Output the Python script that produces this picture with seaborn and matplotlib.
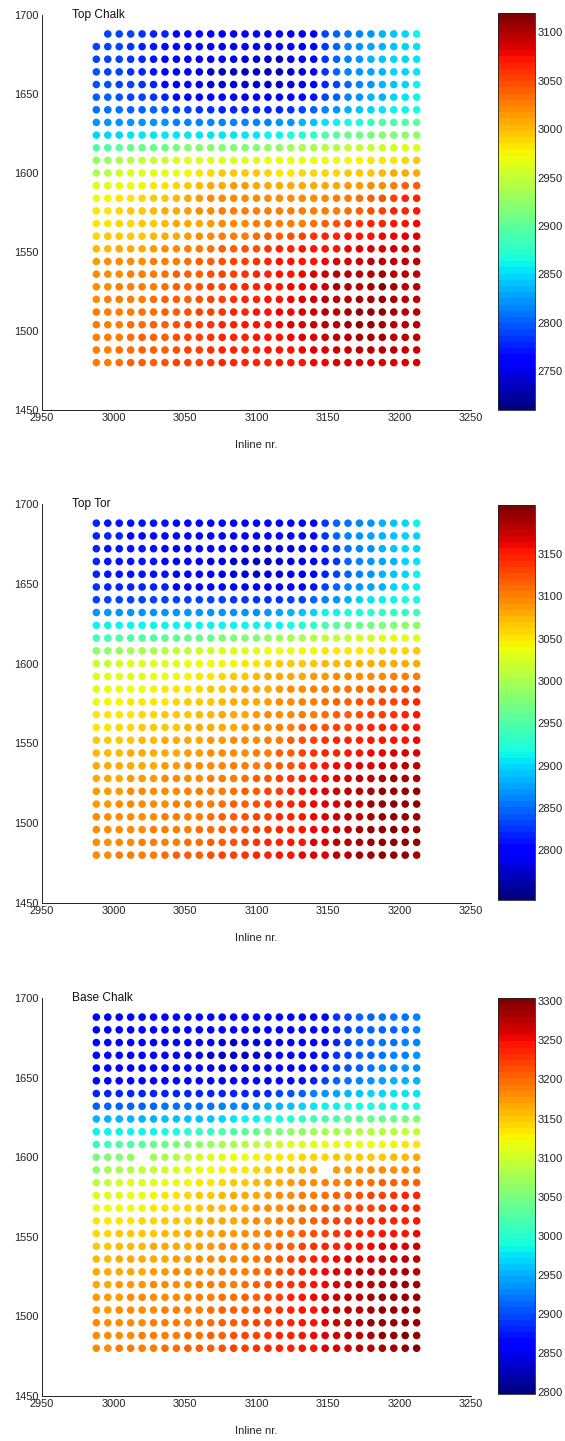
import numpy as np
import pandas as pd
import matplotlib
matplotlib.use("Agg")
import matplotlib.pyplot as plt
import seaborn as sns
from matplotlib.colors import Normalize
from matplotlib.cm import ScalarMappable

nan = float("nan")

# Survey grid: every 8th inline / crossline
inline_nr = [2988, 2996, 3004, 3012, 3020, 3028, 3036, 3044, 3052, 3060,
             3068, 3076, 3084, 3092, 3100, 3108, 3116, 3124, 3132, 3140,
             3148, 3156, 3164, 3172, 3180, 3188, 3196, 3204, 3212]
xline_nr = [1688, 1680, 1672, 1664, 1656, 1648, 1640, 1632, 1624, 1616,
            1608, 1600, 1592, 1584, 1576, 1568, 1560, 1552, 1544, 1536,
            1528, 1520, 1512, 1504, 1496, 1488, 1480]

horizon_names = ["Top Chalk", "Top Tor", "Base Chalk"]
depth_limits = [(2710, 3120), (2741, 3208), (2798, 3304)]
colorbar_ticks = [
    [2750, 2800, 2850, 2900, 2950, 3000, 3050, 3100],
    [2800, 2850, 2900, 2950, 3000, 3050, 3100, 3150],
    [2800, 2850, 2900, 2950, 3000, 3050, 3100, 3150, 3200, 3250, 3300],
]

# Horizon depth at each grid node, as percent of the horizon's depth range
# (rows follow xline_nr, columns follow inline_nr; nan = no pick)
top_chalk_pct = [
    [nan, 20, 20, 19, 18, 17, 16, 14, 12, 11, 11, 11, 11, 11, 11, 10, 10, 10, 10, 12, 19, 22, 24, 26, 28, 30, 32, 34, 36],
    [20, 20, 19, 18, 17, 15, 14, 12, 11, 11, 10, 10, 10, 10, 10, 10, 10, 10, 11, 12, 18, 22, 25, 27, 29, 30, 32, 33, 35],
    [20, 20, 19, 18, 17, 15, 13, 12, 11, 11, 10, 10, 9, 8, 7, 7, 6, 8, 10, 12, 18, 22, 26, 28, 30, 32, 33, 34, 35],
    [21, 20, 20, 18, 17, 15, 13, 12, 10, 9, 7, 6, 6, 5, 5, 5, 5, 7, 9, 12, 18, 22, 25, 27, 29, 31, 33, 34, 35],
    [21, 21, 20, 19, 18, 16, 14, 12, 11, 10, 9, 8, 8, 7, 7, 7, 7, 8, 10, 12, 17, 20, 23, 26, 28, 30, 32, 34, 36],
    [22, 22, 21, 20, 19, 18, 16, 14, 13, 12, 11, 11, 10, 10, 10, 10, 11, 12, 13, 15, 20, 23, 26, 28, 30, 31, 33, 35, 37],
    [24, 24, 24, 23, 23, 22, 21, 20, 19, 18, 18, 17, 17, 17, 17, 17, 17, 18, 20, 22, 25, 27, 30, 32, 34, 35, 36, 37, 38],
    [27, 27, 27, 27, 27, 27, 27, 26, 26, 26, 26, 26, 26, 26, 26, 26, 28, 28, 30, 32, 35, 36, 38, 39, 42, 44, 45, 45, 46],
    [34, 34, 34, 35, 35, 35, 35, 35, 35, 35, 35, 35, 35, 35, 35, 36, 37, 38, 40, 42, 44, 46, 47, 48, 49, 50, 51, 52, 53],
    [44, 45, 46, 47, 47, 48, 48, 49, 50, 50, 51, 51, 51, 51, 51, 52, 53, 54, 55, 56, 57, 57, 58, 58, 59, 60, 60, 61, 62],
    [52, 54, 56, 57, 58, 59, 60, 61, 62, 62, 62, 62, 62, 62, 62, 63, 63, 64, 64, 64, 64, 64, 65, 65, 66, 66, 67, 68, 69],
    [56, 57, 60, 62, 62, 62, 63, 64, 65, 67, 68, 69, 70, 70, 69, 68, 67, 67, 68, 68, 68, 68, 69, 70, 70, 71, 72, 73, 73],
    [62, 62, 63, 64, 65, 66, 67, 68, 70, 71, 72, 73, 74, 74, 73, 72, 72, 72, 73, 73, 73, 73, 74, 74, 75, 76, 78, 80, 81],
    [64, 65, 66, 67, 68, 69, 70, 71, 73, 74, 75, 76, 76, 76, 76, 75, 75, 75, 76, 76, 76, 77, 78, 79, 80, 82, 84, 86, 87],
    [66, 67, 68, 69, 70, 71, 72, 73, 74, 75, 76, 77, 77, 77, 77, 77, 77, 77, 77, 77, 78, 78, 79, 80, 82, 84, 86, 87, 88],
    [67, 67, 68, 68, 69, 70, 71, 72, 73, 73, 74, 75, 76, 76, 77, 77, 77, 78, 78, 79, 80, 82, 84, 85, 86, 87, 88, 89, 90],
    [68, 69, 69, 70, 70, 71, 72, 73, 74, 75, 76, 77, 78, 78, 79, 80, 80, 82, 83, 85, 86, 87, 88, 88, 89, 90, 90, 91, 92],
    [71, 71, 72, 73, 73, 74, 75, 76, 77, 78, 79, 80, 81, 82, 82, 85, 86, 87, 88, 88, 88, 89, 90, 91, 92, 92, 93, 92, 93],
    [74, 75, 75, 76, 76, 77, 78, 78, 79, 80, 81, 82, 83, 84, 85, 87, 88, 88, 88, 89, 90, 91, 92, 93, 94, 95, 94, 94, 94],
    [75, 76, 76, 77, 77, 78, 79, 80, 80, 81, 82, 83, 84, 85, 86, 87, 88, 89, 90, 91, 93, 95, 94, 94, 95, 96, 95, 95, 95],
    [75, 76, 77, 77, 78, 78, 79, 80, 81, 82, 83, 84, 85, 86, 87, 88, 89, 90, 90, 92, 93, 96, 95, 95, 96, 99, 96, 95, 95],
    [76, 77, 77, 78, 78, 79, 80, 80, 81, 82, 83, 84, 85, 86, 87, 88, 89, 90, 91, 93, 94, 95, 95, 96, 96, 97, 96, 95, 95],
    [77, 77, 78, 78, 79, 79, 80, 81, 82, 83, 84, 85, 86, 87, 88, 89, 90, 90, 91, 93, 94, 95, 96, 97, 97, 97, 96, 95, 95],
    [77, 78, 78, 79, 79, 80, 81, 82, 83, 84, 85, 86, 87, 88, 88, 89, 90, 91, 92, 93, 94, 95, 96, 97, 97, 96, 95, 95, 95],
    [77, 78, 78, 79, 80, 80, 81, 82, 83, 84, 85, 86, 87, 87, 88, 88, 89, 90, 91, 92, 93, 94, 95, 96, 96, 96, 95, 95, 94],
    [77, 78, 79, 79, 80, 81, 81, 82, 83, 84, 85, 86, 86, 87, 87, 88, 88, 89, 90, 91, 92, 93, 93, 94, 94, 94, 94, 93, 93],
    [77, 78, 79, 80, 81, 81, 82, 83, 83, 84, 85, 86, 86, 87, 87, 87, 88, 88, 89, 90, 90, 91, 91, 92, 92, 92, 92, 91, 91],
]

top_tor_pct = [
    [17, 15, 15, 15, 15, 15, 15, 13, 13, 13, 13, 13, 13, 13, 13, 13, 13, 13, 13, 14, 18, 22, 24, 26, 28, 30, 32, 34, 37],
    [16, 16, 16, 14, 14, 14, 14, 14, 14, 12, 12, 12, 12, 12, 12, 12, 12, 12, 13, 13, 18, 22, 25, 27, 29, 30, 32, 33, 34],
    [17, 15, 15, 15, 15, 15, 12, 12, 12, 12, 12, 10, 10, 10, 8, 7, 8, 8, 10, 12, 17, 20, 24, 26, 28, 30, 32, 33, 34],
    [17, 15, 15, 15, 15, 15, 12, 12, 12, 10, 9, 8, 6, 7, 5, 6, 7, 8, 10, 12, 15, 18, 22, 25, 27, 29, 31, 33, 35],
    [17, 15, 15, 15, 15, 15, 15, 12, 12, 12, 11, 10, 9, 8, 7, 8, 9, 10, 11, 13, 16, 20, 23, 26, 28, 30, 32, 34, 36],
    [18, 16, 16, 16, 16, 16, 16, 14, 14, 14, 14, 14, 12, 12, 12, 12, 12, 12, 13, 15, 19, 22, 25, 27, 29, 31, 33, 35, 36],
    [20, 20, 20, 20, 20, 20, 19, 19, 19, 19, 19, 19, 18, 18, 18, 18, 18, 19, 20, 22, 25, 28, 30, 33, 35, 36, 37, 38, 38],
    [27, 27, 27, 27, 27, 27, 27, 27, 27, 27, 27, 28, 28, 28, 28, 28, 29, 30, 32, 34, 36, 37, 38, 39, 40, 41, 42, 42, 43],
    [36, 36, 36, 36, 36, 36, 36, 36, 36, 36, 36, 37, 37, 37, 37, 37, 37, 38, 40, 42, 44, 46, 47, 48, 49, 50, 51, 52, 52],
    [43, 43, 44, 44, 45, 45, 46, 46, 47, 47, 48, 50, 50, 51, 51, 52, 54, 55, 56, 57, 58, 58, 59, 60, 60, 61, 61, 62, 62],
    [52, 53, 54, 55, 56, 56, 57, 58, 59, 60, 60, 61, 62, 62, 62, 63, 64, 64, 65, 65, 66, 66, 67, 67, 67, 68, 68, 68, 69],
    [58, 59, 60, 61, 62, 62, 62, 62, 63, 63, 64, 65, 65, 66, 67, 68, 69, 69, 70, 70, 71, 71, 71, 72, 72, 72, 72, 73, 73],
    [61, 62, 62, 62, 62, 63, 63, 64, 65, 66, 67, 68, 69, 70, 71, 72, 72, 73, 73, 74, 74, 75, 75, 76, 76, 76, 77, 77, 78],
    [62, 63, 63, 64, 64, 65, 66, 67, 67, 68, 69, 70, 71, 72, 73, 73, 74, 75, 76, 77, 78, 78, 79, 79, 80, 80, 81, 82, 83],
    [64, 65, 65, 66, 66, 67, 67, 68, 69, 70, 70, 71, 72, 73, 73, 74, 75, 76, 77, 78, 79, 80, 81, 82, 82, 83, 84, 85, 86],
    [66, 66, 67, 67, 68, 68, 69, 69, 70, 71, 71, 72, 72, 73, 74, 75, 76, 76, 77, 78, 79, 80, 81, 82, 83, 84, 85, 86, 88],
    [67, 67, 68, 68, 69, 69, 70, 70, 71, 72, 72, 73, 73, 74, 75, 76, 77, 78, 80, 81, 82, 83, 84, 85, 86, 86, 87, 88, 89],
    [69, 69, 70, 70, 71, 71, 72, 72, 73, 73, 74, 74, 75, 75, 76, 77, 78, 80, 82, 84, 85, 86, 87, 87, 88, 88, 89, 89, 90],
    [71, 71, 71, 72, 72, 72, 73, 73, 74, 74, 75, 75, 76, 76, 77, 78, 80, 81, 83, 85, 87, 87, 88, 89, 90, 90, 91, 91, 92],
    [72, 72, 72, 73, 73, 73, 74, 74, 75, 75, 76, 76, 77, 77, 78, 79, 80, 82, 84, 87, 88, 90, 90, 91, 92, 93, 93, 94, 94],
    [73, 73, 73, 74, 74, 74, 75, 75, 76, 76, 77, 77, 78, 79, 80, 82, 83, 85, 87, 89, 90, 92, 93, 94, 95, 96, 98, 96, 96],
    [74, 74, 74, 75, 75, 75, 76, 76, 77, 77, 78, 78, 79, 80, 81, 83, 84, 86, 88, 90, 91, 93, 94, 95, 96, 97, 97, 97, 97],
    [74, 74, 75, 75, 75, 76, 76, 77, 77, 77, 78, 79, 80, 81, 82, 84, 85, 87, 88, 90, 91, 92, 94, 95, 96, 97, 98, 98, 97],
    [75, 75, 75, 76, 76, 76, 77, 77, 78, 78, 79, 80, 81, 82, 83, 84, 86, 87, 89, 90, 91, 93, 94, 95, 96, 97, 98, 98, 98],
    [75, 75, 76, 76, 76, 77, 77, 78, 78, 79, 79, 80, 81, 82, 84, 85, 86, 87, 89, 90, 91, 93, 94, 96, 97, 98, 99, 98, 97],
    [75, 76, 76, 76, 77, 77, 78, 78, 79, 79, 80, 81, 82, 83, 85, 86, 87, 88, 89, 91, 92, 94, 95, 96, 97, 98, 98, 98, 97],
    [76, 76, 77, 77, 78, 78, 79, 80, 80, 81, 82, 83, 84, 85, 86, 87, 88, 89, 90, 91, 92, 94, 95, 96, 96, 97, 97, 97, 96],
]

base_chalk_pct = [
    [14, 13, 13, 13, 13, 13, 13, 13, 13, 13, 13, 13, 13, 13, 13, 13, 13, 13, 13, 13, 14, 18, 20, 22, 23, 24, 24, 24, 26],
    [12, 12, 12, 12, 12, 12, 12, 12, 12, 12, 12, 12, 12, 12, 10, 12, 12, 12, 12, 12, 13, 16, 19, 21, 22, 23, 23, 24, 25],
    [12, 12, 12, 12, 12, 12, 12, 12, 10, 10, 10, 8, 7, 8, 8, 10, 10, 10, 11, 12, 14, 17, 20, 22, 23, 24, 24, 25, 26],
    [12, 12, 12, 12, 12, 12, 12, 10, 9, 8, 7, 6, 5, 6, 7, 8, 10, 11, 12, 13, 15, 18, 20, 22, 23, 24, 25, 26, 27],
    [12, 12, 12, 12, 12, 12, 12, 12, 12, 11, 10, 9, 9, 9, 10, 10, 11, 12, 13, 14, 16, 19, 21, 23, 24, 25, 26, 27, 28],
    [13, 13, 13, 13, 13, 13, 13, 13, 13, 13, 13, 13, 13, 13, 13, 13, 13, 13, 15, 17, 19, 22, 24, 26, 28, 29, 30, 31, 31],
    [16, 16, 16, 16, 16, 16, 16, 16, 16, 16, 16, 17, 17, 17, 17, 17, 19, 21, 23, 25, 27, 29, 31, 32, 33, 34, 35, 35, 35],
    [23, 23, 23, 23, 23, 23, 24, 24, 24, 24, 24, 26, 26, 26, 28, 30, 31, 32, 34, 35, 36, 37, 38, 38, 38, 38, 39, 39, 39],
    [30, 30, 30, 30, 30, 30, 32, 32, 32, 32, 32, 34, 35, 36, 37, 38, 39, 40, 42, 43, 44, 45, 46, 46, 47, 48, 48, 49, 50],
    [37, 37, 37, 37, 37, 37, 38, 39, 40, 41, 42, 44, 45, 46, 48, 50, 51, 52, 53, 54, 55, 56, 56, 57, 57, 57, 57, 58, 58],
    [42, 43, 44, 45, 46, 47, 48, 50, 51, 53, 54, 55, 56, 57, 58, 59, 60, 61, 62, 62, 63, 63, 64, 64, 64, 65, 65, 66, 66],
    [49, 50, 51, 52, nan, 54, 55, 57, 59, 60, 61, 62, 63, 64, 65, 66, 66, 67, 68, 68, 68, 69, 69, 70, 70, 70, 71, 71, 72],
    [53, 55, 56, 57, 58, 59, 60, 61, 62, 63, 64, 65, 66, 67, 68, 69, 70, 71, 71, 72, nan, 74, 74, 74, 75, 75, 75, 76, 76],
    [57, 59, 60, 61, 61, 62, 63, 64, 65, 66, 67, 68, 69, 70, 71, 72, 73, 74, 75, 76, 77, 78, 78, 79, 79, 80, 80, 80, 81],
    [61, 62, 62, 63, 64, 65, 66, 67, 68, 69, 70, 71, 72, 72, 73, 74, 75, 76, 77, 78, 79, 80, 81, 82, 83, 84, 85, 86, 86],
    [63, 63, 64, 64, 65, 66, 66, 67, 68, 69, 71, 71, 72, 73, 74, 75, 76, 77, 78, 79, 80, 81, 82, 83, 84, 85, 86, 86, 87],
    [66, 66, 67, 67, 68, 68, 69, 69, 70, 71, 72, 72, 73, 74, 75, 76, 77, 78, 79, 80, 82, 83, 84, 85, 86, 86, 87, 87, 88],
    [68, 68, 69, 69, 70, 70, 71, 71, 72, 72, 73, 74, 74, 75, 76, 77, 78, 79, 81, 82, 84, 85, 86, 86, 87, 88, 89, 89, 90],
    [70, 70, 71, 71, 71, 72, 72, 73, 73, 74, 74, 75, 75, 76, 77, 78, 80, 81, 83, 85, 86, 87, 88, 89, 90, 91, 92, 92, 93],
    [71, 71, 72, 72, 72, 73, 73, 74, 74, 75, 75, 76, 76, 77, 78, 80, 81, 83, 85, 87, 88, 90, 91, 92, 92, 93, 93, 94, 95],
    [72, 72, 73, 73, 73, 74, 74, 75, 75, 76, 76, 77, 77, 78, 79, 81, 82, 84, 86, 88, 90, 91, 92, 94, 94, 95, 95, 96, 95],
    [73, 73, 74, 74, 74, 75, 75, 76, 76, 77, 77, 78, 78, 79, 80, 82, 83, 85, 87, 89, 90, 92, 93, 94, 95, 96, 96, 97, 96],
    [74, 74, 74, 75, 75, 75, 76, 76, 77, 77, 78, 79, 79, 80, 81, 83, 84, 86, 88, 90, 91, 93, 94, 95, 96, 97, 97, 97, 97],
    [74, 74, 75, 75, 76, 76, 77, 77, 78, 78, 79, 80, 80, 81, 82, 83, 85, 86, 88, 89, 91, 93, 95, 95, 96, 97, 98, 98, 98],
    [75, 75, 75, 76, 76, 77, 77, 78, 78, 79, 79, 80, 81, 82, 83, 84, 85, 87, 88, 89, 91, 93, 95, 96, 97, 97, 98, 98, 98],
    [75, 75, 76, 76, 77, 77, 78, 78, 79, 79, 80, 81, 82, 83, 84, 85, 86, 87, 88, 90, 91, 93, 94, 95, 96, 97, 98, 99, 97],
    [76, 76, 77, 77, 78, 78, 79, 79, 80, 80, 81, 82, 83, 84, 85, 86, 86, 87, 88, 89, 91, 92, 93, 94, 95, 96, 96, 97, 99],
]

horizon_pct = [top_chalk_pct, top_tor_pct, base_chalk_pct]

sns.set_theme(style="white")
plt.rcParams["font.family"] = ["Liberation Sans", "DejaVu Sans"]
plt.rcParams["axes.linewidth"] = 0.7
plt.rcParams["axes.edgecolor"] = "#222222"
plt.rcParams["text.color"] = "#111111"
plt.rcParams["xtick.color"] = "#222222"
plt.rcParams["ytick.color"] = "#222222"

W, H = 565, 1441
fig = plt.figure(figsize=(W / 100, H / 100), dpi=100)
fig.patch.set_facecolor("white")

jet = plt.get_cmap("jet", 64)

# pixel frames (left, top, right, bottom) of each map and its colorbar
axes_px = [(42, 15, 471, 410), (42, 504, 471, 903), (42, 998, 471, 1396)]
cbar_px = [(498, 13, 535, 410), (498, 505, 535, 900), (498, 998, 535, 1394)]


def frac(box):
    l, t, r, b = box
    return [l / W, 1 - b / H, (r - l) / W, (b - t) / H]


for name, pct, (lo, hi), cticks, apx, cpx in zip(
        horizon_names, horizon_pct, depth_limits, colorbar_ticks, axes_px, cbar_px):
    grid = np.array(pct, dtype=float)
    xx, yy = np.meshgrid(inline_nr, xline_nr)
    df = pd.DataFrame({
        "inline": xx.ravel(),
        "xline": yy.ravel(),
        "depth": lo + grid.ravel() / 100.0 * (hi - lo),
    }).dropna()

    ax = fig.add_axes(frac(apx))
    sns.scatterplot(data=df, x="inline", y="xline", hue="depth",
                    palette=jet, hue_norm=(lo, hi), s=30, linewidth=0,
                    edgecolor="none", legend=False, ax=ax)
    ax.set_xlim(2950, 3250)
    ax.set_ylim(1450, 1700)
    ax.set_xticks([2950, 3000, 3050, 3100, 3150, 3200, 3250])
    ax.set_yticks([1450, 1500, 1550, 1600, 1650, 1700])
    ax.tick_params(direction="in", length=3.5, width=0.6, labelsize=7.9,
                   pad=2.5, colors="#222222")
    for side in ("top", "right"):
        ax.spines[side].set_visible(False)
    ax.set_xlabel("Inline nr.", fontsize=8.1, labelpad=12)
    ax.set_ylabel("")
    ax.text(2971, 1700, name, ha="left", va="center", fontsize=8.6,
            clip_on=False)

    cax = fig.add_axes(frac(cpx))
    sm = ScalarMappable(norm=Normalize(vmin=lo, vmax=hi), cmap=jet)
    cb = fig.colorbar(sm, cax=cax, ticks=cticks)
    cb.outline.set_linewidth(0.6)
    cb.ax.tick_params(direction="in", length=3, width=0.6, labelsize=8.1,
                      pad=2, left=True, right=True, colors="#222222")

fig.savefig("out.png", dpi=100, facecolor="white")
